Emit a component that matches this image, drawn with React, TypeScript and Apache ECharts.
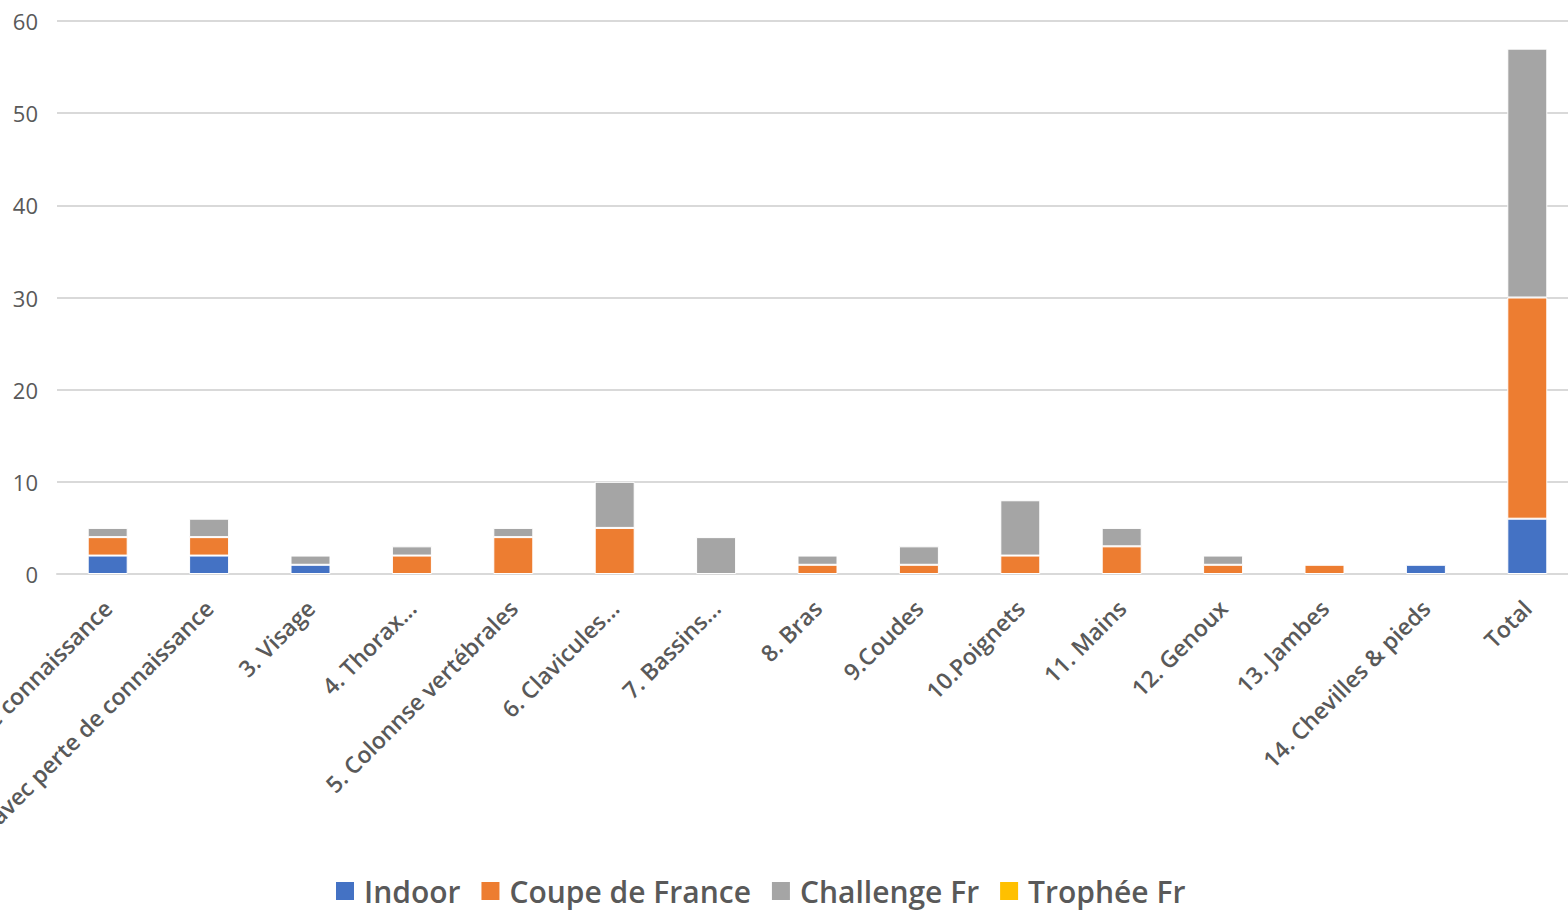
import React, { useEffect, useRef } from "react";
import * as echarts from "echarts";

const categories = [
  "1. Tête sans perte de connaissance",
  "2. Tête avec perte de connaissance",
  "3. Visage",
  "4. Thorax...",
  "5. Colonnse vertébrales",
  "6. Clavicules...",
  "7. Bassins...",
  "8. Bras",
  "9.Coudes",
  "10.Poignets",
  "11. Mains",
  "12. Genoux",
  "13. Jambes",
  "14. Chevilles & pieds",
  "Total",
];

const indoor = [2, 2, 1, 0, 0, 0, 0, 0, 0, 0, 0, 0, 0, 1, 6];
const coupeDeFrance = [2, 2, 0, 2, 4, 5, 0, 1, 1, 2, 3, 1, 1, 0, 24];
const challengeFr = [1, 2, 1, 1, 1, 5, 4, 1, 2, 6, 2, 1, 0, 0, 27];
const tropheeFr = [0, 0, 0, 0, 0, 0, 0, 0, 0, 0, 0, 0, 0, 0, 0];

const yTicks = { min: 0, max: 60, interval: 10 };

const seriesDefs = [
  { name: "Indoor", data: indoor, color: "#4472C4" },
  { name: "Coupe de France", data: coupeDeFrance, color: "#ED7D31" },
  { name: "Challenge Fr", data: challengeFr, color: "#A5A5A5" },
  { name: "Trophée Fr", data: tropheeFr, color: "#FFC000" },
];

const FONT = "'Open Sans', sans-serif";

export default function App() {
  const ref = useRef<HTMLDivElement>(null);
  useEffect(() => {
    if (!ref.current) return;
    const chart = echarts.init(ref.current, null, { renderer: "svg" });
    chart.setOption({
      animation: false,
      backgroundColor: "#ffffff",
      grid: {
        left: 57,
        right: -10,
        top: 21,
        bottom: 336,
        containLabel: false,
        outerBoundsMode: "none",
      },
      legend: {
        left: 329,
        top: 868,
        icon: "rect",
        itemWidth: 20,
        itemHeight: 20,
        itemGap: 19,
        textStyle: {
          fontFamily: FONT,
          fontSize: 30,
          fontWeight: 600,
          color: "#595959",
          lineHeight: 36,
          padding: [0, 0, 0, 4],
        },
        data: seriesDefs.map((s) => s.name),
      },
      xAxis: {
        type: "category",
        data: categories,
        axisLine: { show: true, lineStyle: { color: "#D9D9D9", width: 2 } },
        axisTick: { show: false },
        axisLabel: {
          interval: 0,
          rotate: 45,
          fontFamily: FONT,
          fontSize: 23,
          fontWeight: 600,
          color: "#595959",
          margin: 30,
          hideOverlap: false,
        },
      },
      yAxis: {
        type: "value",
        min: yTicks.min,
        max: yTicks.max,
        interval: yTicks.interval,
        axisLine: { show: false },
        axisTick: { show: false },
        splitLine: { lineStyle: { color: "#D9D9D9", width: 2 } },
        axisLabel: {
          fontFamily: FONT,
          fontSize: 22,
          color: "#595959",
          margin: 19,
        },
      },
      series: seriesDefs.map((s) => ({
        name: s.name,
        type: "bar",
        stack: "total",
        barWidth: 40,
        itemStyle: { color: s.color, borderColor: "#ffffff", borderWidth: 1 },
        data: s.data.map((v) => (v === 0 ? null : v)),
      })),
    });
    return () => chart.dispose();
  }, []);
  return (
    <div
      ref={ref}
      style={{ position: "absolute", left: 0, top: 0, width: 1568, height: 910 }}
    />
  );
}
